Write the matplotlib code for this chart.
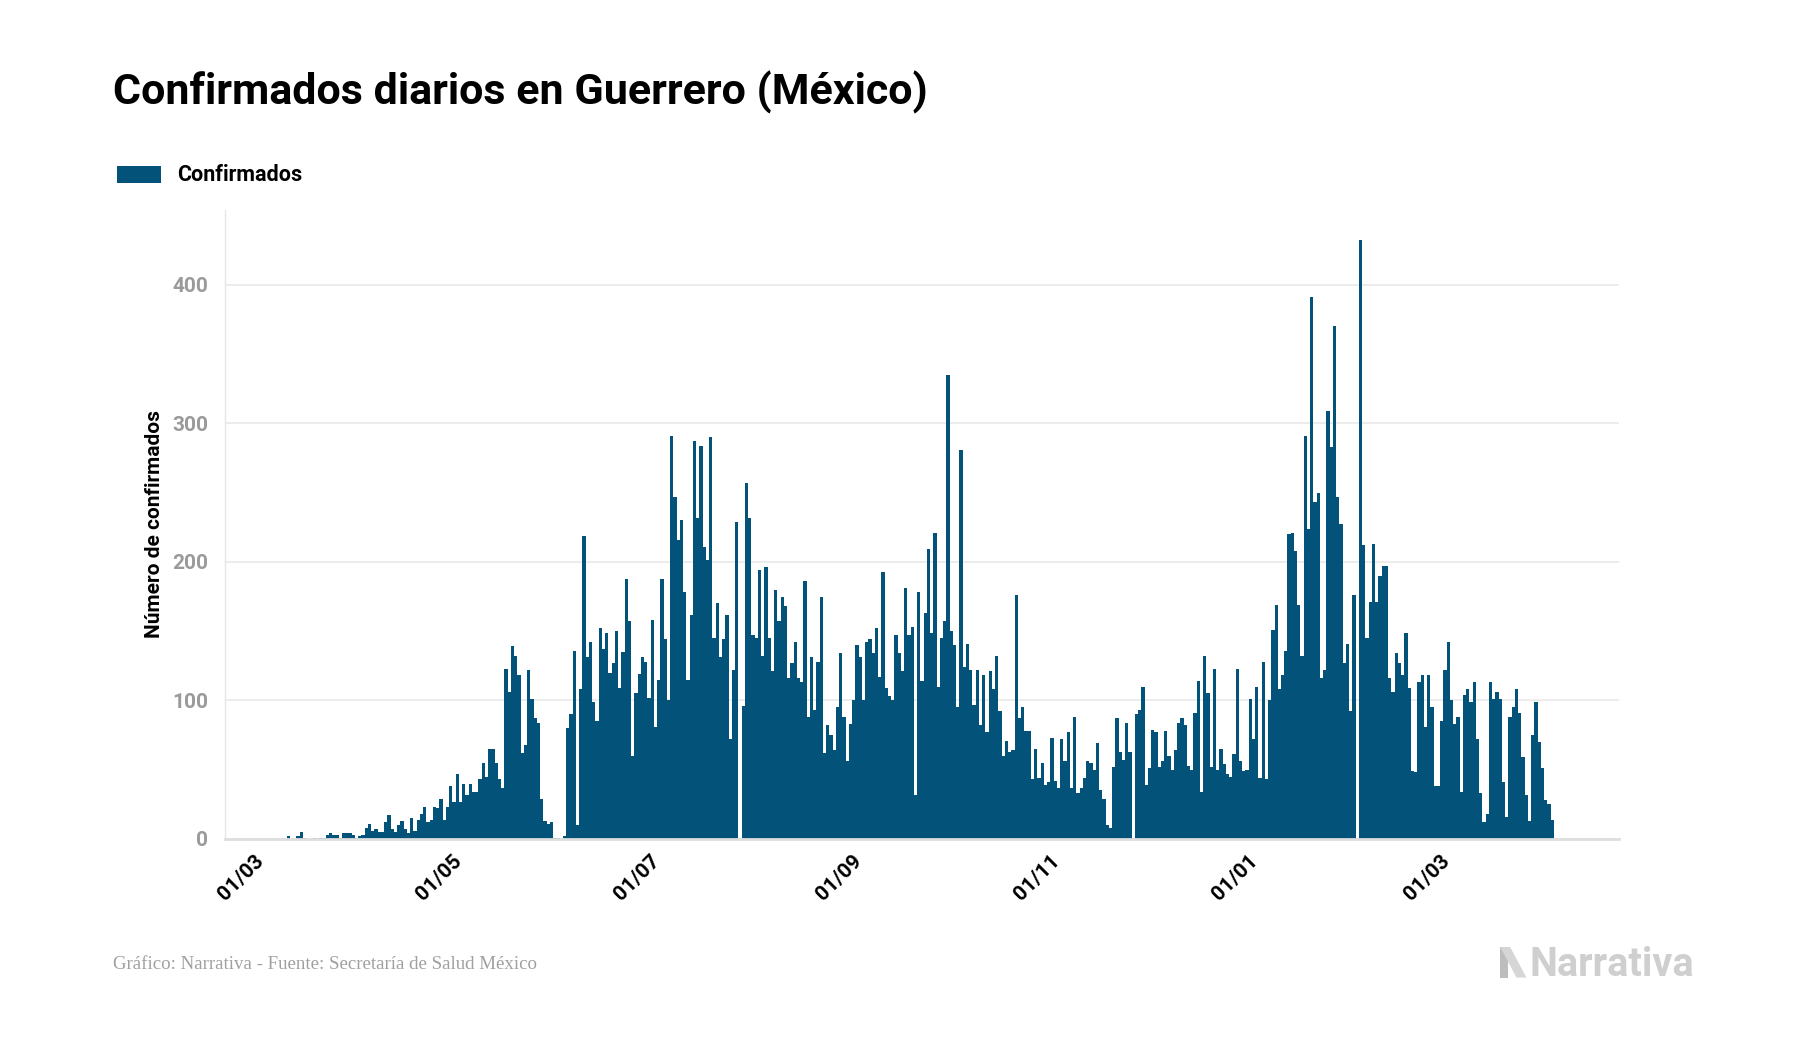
import numpy as np
import matplotlib
matplotlib.use("Agg")
import matplotlib.pyplot as plt
from matplotlib.patches import Rectangle, Polygon

# Datos: confirmados diarios, un valor por día desde primer_dia
primer_dia = "2020-03-09"

# 09/03/2020 - 24/04/2020
conf_mar_abr = [2, 0, 0, 2, 5, 1, 0, 0, 1, 0, 1, 1, 3, 4, 3, 3, 1, 4, 4, 4,
                3, 1, 2, 3, 8, 11, 6, 7, 5, 5, 12, 17, 7, 5, 10, 13, 7, 4, 15, 6,
                14, 18, 23, 12, 14, 23, 22]
# 25/04/2020 - 17/06/2020
conf_abr_jun = [29, 14, 23, 38, 27, 47, 27, 40, 32, 40, 34, 34, 43, 55, 45, 65, 65, 55, 43, 37,
                123, 106, 139, 132, 118, 62, 68, 122, 101, 87, 84, 29, 13, 11, 12, 1, 1, 0, 2, 80,
                90, 136, 10, 108, 219, 131, 142, 99, 85, 152, 137, 149, 120, 127]
# 18/06/2020 - 04/08/2020
conf_jun_ago = [150, 109, 135, 188, 157, 60, 105, 119, 131, 128, 102, 158, 81, 115, 188, 144,
                100, 291, 247, 216, 230, 178, 115, 162, 287, 232, 284, 211, 201, 290, 145, 170,
                131, 144, 162, 72, 122, 229, 0, 96, 257, 232, 147, 145, 194, 132, 196, 145]
# 05/08/2020 - 22/09/2020
conf_ago_sep = [121, 180, 157, 175, 168, 116, 127, 142, 116, 113, 186, 88, 131, 93, 128, 175,
                62, 82, 75, 64, 95, 134, 88, 56, 83, 100, 140, 131, 100, 142, 144, 134, 152,
                117, 193, 109, 103, 100, 147, 134, 121, 181, 147, 153, 32, 178, 114, 163, 209]
# 23/09/2020 - 11/11/2020
conf_sep_nov = [149, 221, 110, 145, 157, 335, 150, 140, 95, 281, 124, 141, 122, 97, 122, 82,
                118, 77, 121, 108, 132, 92, 60, 71, 63, 64, 176, 87, 95, 78, 78, 43, 65, 44,
                55, 39, 41, 73, 42, 37, 72, 56, 77, 37, 88, 33, 37, 44, 56, 55]
# 12/11/2020 - 30/12/2020
conf_nov_dic = [50, 69, 35, 29, 10, 8, 52, 87, 63, 57, 84, 63, 0, 90, 93, 110, 39, 51, 79, 77,
                52, 56, 78, 60, 50, 64, 84, 87, 82, 53, 50, 91, 114, 34, 132, 105, 52, 123,
                50, 65, 54, 47, 45, 61, 123, 56, 49, 50, 101]
# 31/12/2020 - 17/02/2021
conf_dic_feb = [72, 110, 44, 128, 43, 100, 151, 169, 108, 118, 136, 220, 221, 208, 169, 132,
                291, 224, 391, 243, 250, 116, 122, 309, 283, 370, 247, 227, 127, 141, 92, 176,
                0, 432, 212, 145, 171, 213, 171, 190, 197, 197, 116, 106, 134, 127, 118, 149, 109]
# 18/02/2021 - 02/04/2021
conf_feb_abr = [49, 48, 113, 118, 81, 118, 95, 38, 38, 85, 122, 142, 100, 83, 88, 34, 104,
                108, 99, 113, 72, 33, 12, 18, 113, 101, 106, 101, 41, 16, 88, 95, 108, 91, 59,
                32, 13, 75, 99, 70, 51, 28, 25, 14]

tick_fechas = ["2020-03-01", "2020-05-01", "2020-07-01", "2020-09-01",
               "2020-11-01", "2021-01-01", "2021-03-01"]
tick_etiquetas = ["01/03", "01/05", "01/07", "01/09", "01/11", "01/01", "01/03"]
y_ticks = [0, 100, 200, 300, 400]

titulo = "Confirmados diarios en Guerrero (México)"
fuente = "Gráfico: Narrativa - Fuente: Secretaría de Salud México"

confirmados = (conf_mar_abr + conf_abr_jun + conf_jun_ago + conf_ago_sep
               + conf_sep_nov + conf_nov_dic + conf_dic_feb + conf_feb_abr)
fechas = np.datetime64(primer_dia) + np.arange(len(confirmados))

AZUL = "#02527a"
GRIS_GRID = "#e9e9e9"

plt.rcParams["font.family"] = ["Roboto", "DejaVu Sans"]

fig = plt.figure(figsize=(18, 10.5), dpi=100)
ax = fig.add_axes([0.125, 0.201, 0.7744, 0.599])

ax.bar(fechas, confirmados, width=1.0, align="edge", color=AZUL, linewidth=0)

ax.set_xlim(np.datetime64("2020-02-19"), np.datetime64("2021-04-23"))
ax.set_ylim(0, 454)

ax.set_xticks([np.datetime64(f) for f in tick_fechas])
ax.set_xticklabels(tick_etiquetas, rotation=45, ha="right", va="center",
                   rotation_mode="anchor", fontsize=15, fontweight="bold", color="black")
ax.set_yticks(y_ticks)
ax.set_yticklabels([str(v) for v in y_ticks], fontsize=15, fontweight="bold", color="#9a9a9a")
ax.tick_params(axis="x", length=0, pad=14)
ax.tick_params(axis="y", length=0, pad=12)

ax.grid(axis="y", color=GRIS_GRID, linewidth=1.2)
ax.set_axisbelow(True)
for s in ["top", "right"]:
    ax.spines[s].set_visible(False)
ax.spines["left"].set_color("#e6e6e6")
ax.spines["left"].set_linewidth(1.0)
ax.spines["bottom"].set_color("#dedede")
ax.spines["bottom"].set_linewidth(2.0)

ax.set_ylabel("Número de confirmados", fontsize=15, fontweight="bold", color="black")
ax.yaxis.set_label_coords(-0.044, 0.5)

# titulo
fig.text(0.063, 0.9, titulo, fontsize=31, fontweight="bold", color="black",
         ha="left", va="baseline")

# leyenda
fig.patches.append(Rectangle((0.065, 0.8257), 0.0244, 0.0162, transform=fig.transFigure,
                             facecolor=AZUL, edgecolor="none"))
fig.text(0.0985, 0.8338, "Confirmados", fontsize=15.5, fontweight="bold", color="black",
         ha="left", va="center")

# pie
fig.text(0.063, 0.0815, fuente, fontsize=13.6, color="#a0a0a0", ha="left", va="center",
         family=["Liberation Serif", "DejaVu Serif"])

# logo
fig.patches.append(Polygon([(0.8335, 0.098), (0.8375, 0.098), (0.8375, 0.069), (0.8335, 0.069)],
                           closed=True, transform=fig.transFigure, facecolor="#bdbdbd",
                           edgecolor="none"))
fig.patches.append(Polygon([(0.8335, 0.098), (0.8390, 0.098), (0.8480, 0.069), (0.8425, 0.069)],
                           closed=True, transform=fig.transFigure, facecolor="#d6d6d6",
                           edgecolor="none"))
fig.text(0.8495, 0.0705, "Narrativa", fontsize=28.5, fontweight="bold", color="#cfcfcf",
         ha="left", va="baseline")

fig.savefig("out.png", dpi=100, facecolor="white")
